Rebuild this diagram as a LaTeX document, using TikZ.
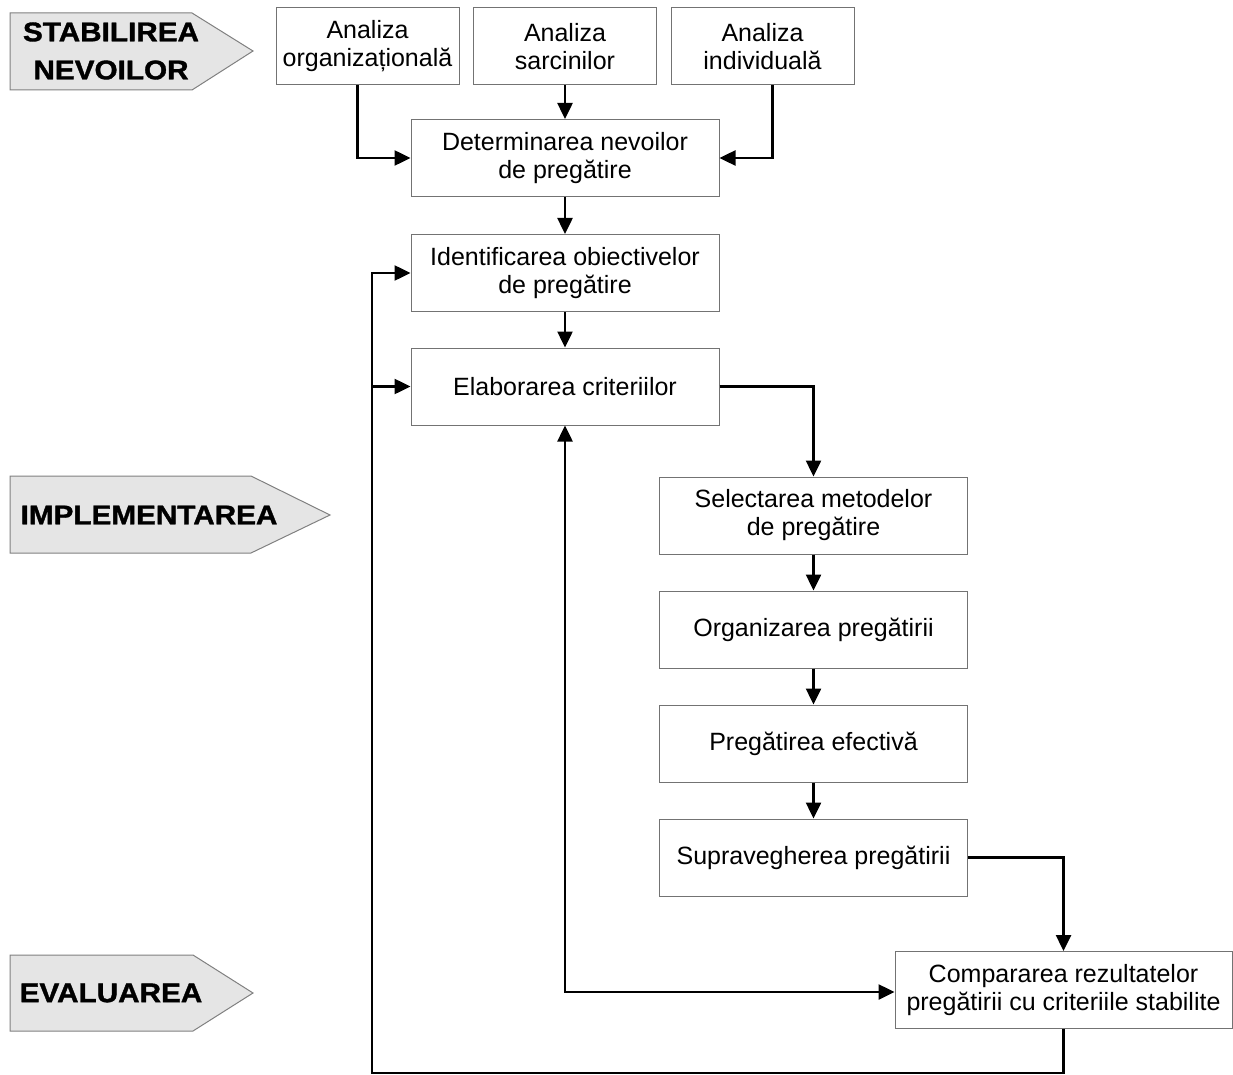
\documentclass[tikz,border=0pt]{standalone}
\usepackage{fontspec}
\setmainfont{Liberation Sans}
\newfontfamily\tagfont{Liberation Sans Bold}[FakeStretch=1.1, FakeBold=1.3]
\usetikzlibrary{
    arrows.meta,
    positioning
}

\begin{document}
\begin{tikzpicture}[x=1pt, y=-1pt,
    box/.style={draw=black!55, line width=1pt, align=center,
        minimum width=308, minimum height=77, inner sep=2pt,
        font=\fontsize{25}{28}\selectfont},
    sbox/.style={box, minimum width=183},
    flow/.style={line width=2.5pt, -{Triangle[length=16pt,width=15pt]}},
    twoway/.style={line width=2.5pt, {Triangle[length=16pt,width=15pt]}-{Triangle[length=16pt,width=15pt]}},
    tag/.style={fill=black!10, draw=black!50, line width=1pt},
    tagtext/.style={font=\tagfont\fontsize{27}{38}\selectfont, align=center}
]
    \useasboundingbox (0,0) rectangle (1233,1075);

    % phase tags
    \draw[tag] (10,13) -- (192,13) -- (253,51) -- (192,90) -- (10,90) -- cycle;
    \node[tagtext] (stabilirea) at (111,51) {STABILIREA\\NEVOILOR};
    \draw[tag] (10,476) -- (251,476) -- (330,515) -- (251,553) -- (10,553) -- cycle;
    \node[tagtext] (implementarea) at (149,515) {IMPLEMENTAREA};
    \draw[tag] (10,955) -- (193,955) -- (253,993) -- (193,1031) -- (10,1031) -- cycle;
    \node[tagtext] (evaluarea) at (111,993) {EVALUAREA};

    % analyses
    \node[sbox] (aorg) at (367.5,46.5) {Analiza\\organizațională};
    \node[sbox] (asarc) at (565,46.5) {Analiza\\sarcinilor};
    \node[sbox] (aind) at (762.5,46.5) {Analiza\\individuală};

    % main chain
    \node[box] (nevoi) at (565,158) {Determinarea nevoilor\\de pregătire};
    \node[box] (obiective) at (565,273) {Identificarea obiectivelor\\de pregătire};
    \node[box] (criterii) at (565,386.5) {Elaborarea criteriilor};
    \node[box] (metode) at (813.5,515.5) {Selectarea metodelor\\de pregătire};
    \node[box] (organizare) at (813.5,629.5) {Organizarea pregătirii};
    \node[box] (efectiva) at (813.5,743.5) {Pregătirea efectivă};
    \node[box] (supraveghere) at (813.5,857.5) {Supravegherea pregătirii};
    \node[box, minimum width=337] (comparare) at (1063.5,990) {Compararea rezultatelor\\pregătirii cu criteriile stabilite};

    \coordinate (jos) at (372,1073);

    \draw[flow] ([xshift=-10]aorg.south) |- (nevoi.west);
    \draw[flow] (asarc) -- (nevoi);
    \draw[flow] ([xshift=10]aind.south) |- (nevoi.east);
    \draw[flow] (nevoi) -- (obiective);
    \draw[flow] (obiective) -- (criterii);
    \draw[flow] (criterii.east) -| (metode.north);
    \draw[flow] (metode) -- (organizare);
    \draw[flow] (organizare) -- (efectiva);
    \draw[flow] (efectiva) -- (supraveghere);
    \draw[flow] (supraveghere.east) -| (comparare.north);
    \draw[twoway] (criterii.south) |- ([yshift=-2]comparare.west);
    \draw[flow] (comparare.south) |- (jos) |- (obiective.west);
    \draw[flow] (jos |- criterii.west) -- (criterii.west);
\end{tikzpicture}
\end{document}
